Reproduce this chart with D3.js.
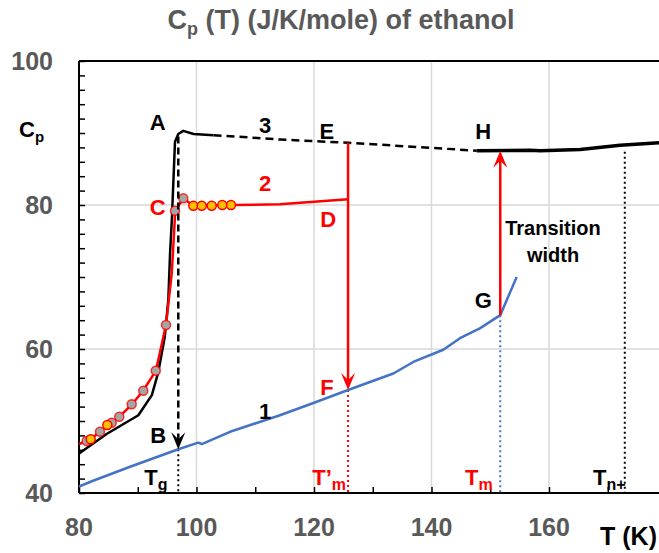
<!DOCTYPE html>
<html><head><meta charset="utf-8">
<script src="https://cdn.jsdelivr.net/npm/d3@7"></script>
<style>
html,body{margin:0;padding:0;background:#fff;}
svg{display:block;font-family:"Liberation Sans",Arial,sans-serif;font-weight:bold;}
</style></head>
<body><svg id="c" width="659" height="553"></svg>
<script>
// ---- data ----
const xTicks = [80, 100, 120, 140, 160];
const yTicks = [40, 60, 80, 100];
// curve 1 (crystal, blue)
const curve1 = [[80,40.9],[82.4,41.7],[88.7,43.65],[96.9,46.07],[100.3,46.99],[100.9,46.8],[105.7,48.5],[114.2,50.8],[119.9,52.5],[125.8,54.3],[133.5,56.6],[136.9,58.2],[142,59.9],[144.85,61.5],[148.3,62.9],[151.7,64.7],[154.5,70.0]];
// curve 3 (liquid, black solid low-T part)
const curve3a = [[80,45.5],[84.7,48.2],[90.1,50.8],[92.4,53.6],[93.5,56.8],[94.6,61.7],[95.2,66.8],[95.5,73.3],[95.8,77.9],[96.34,88.8],[96.9,89.86],[97.75,90.3],[99.5,89.86],[102.9,89.7]];
// curve 3 dashed extrapolation
const curve3b = [[102.9,89.7],[114.2,89.1],[125.8,88.65],[147.7,87.54]];
// curve 3 high-T liquid
const curve3c = [[147.7,87.54],[156.8,87.6],[158.5,87.54],[165.3,87.7],[172.1,88.3],[180,88.7]];
// curve 2 (red)
const curve2 = [[80,46.8],[81.3,47.2],[82,47.5],[83.6,48.5],[84.8,49.4],[85.6,49.8],[86.9,50.6],[89,52.3],[90.9,54.2],[93.1,57.0],[94.8,63.3],[95.8,70.6],[96.3,77.9],[96.34,79.2],[97.75,80.9],[99.5,79.9],[105.9,80.0],[114.2,80.1],[125.8,80.8]];
const grayPts = [[81.31,47.22],[83.57,48.51],[85.57,49.76],[86.86,50.6],[88.97,52.32],[90.94,54.21],[93.06,56.99],[94.81,63.33],[96.34,79.21],[97.75,80.93]];
const orangePts = [[81.99,47.46],[84.82,49.44],[99.46,79.9],[100.89,79.9],[102.59,79.9],[104.39,80.0],[105.87,80.0]];
const Tg = 96.9, Tm1 = 125.8, Tm = 151.7, Tn = 172.9;
const arrowAB = [[96.9,89.5],[96.9,46.07]];
const arrowEF = [[125.8,88.65],[125.8,54.3]];
const arrowGH = [[151.7,64.7],[151.7,87.54]];
const labels = [
 {t:"A",x:93.4,y:91.5,c:"#000"},{t:"3",x:111.7,y:91.1,c:"#000"},{t:"E",x:122.2,y:90.3,c:"#000"},
 {t:"H",x:148.8,y:90.3,c:"#000"},{t:"2",x:111.7,y:83.1,c:"#f00"},{t:"C",x:93.4,y:79.7,c:"#f00"},
 {t:"D",x:122.4,y:78.0,c:"#f00"},{t:"G",x:148.8,y:66.8,c:"#000"},{t:"F",x:122.2,y:54.7,c:"#f00"},
 {t:"1",x:111.7,y:51.4,c:"#000"},{t:"B",x:93.5,y:48.1,c:"#000"}
];
const subLabels = [
 {t:"T",s:"g",x:91.1,y:41.1,c:"#000"},{t:"T’",s:"m",x:119.7,y:41.1,c:"#f00"},
 {t:"T",s:"m",x:145.7,y:41.1,c:"#f00"},{t:"T",s:"n+",x:167.5,y:41.1,c:"#000"}
];

// ---- drawing ----
const svg = d3.select("#c");
const x = d3.scaleLinear().domain([80,180]).range([79,666.5]);
const y = d3.scaleLinear().domain([40,100]).range([493,61]);
const line = d3.line().x(d=>x(d[0])).y(d=>y(d[1]));
const gray = "#595959";

// gridlines
svg.append("g").selectAll("line").data([100,120,140,160]).join("line")
  .attr("x1",d=>x(d)).attr("x2",d=>x(d)).attr("y1",y(100)).attr("y2",y(40))
  .attr("stroke","#d9d9d9").attr("stroke-width",1.5);
svg.append("g").selectAll("line").data([60,80]).join("line")
  .attr("x1",x(80)).attr("x2",659).attr("y1",d=>y(d)).attr("y2",d=>y(d))
  .attr("stroke","#d9d9d9").attr("stroke-width",1.5);

// axes
const yAxis = d3.axisRight(y).tickValues(d3.range(40,101,2)).tickSize(6).tickFormat("");
const gy = svg.append("g").attr("transform",`translate(${x(80)},0)`).call(yAxis);
const xAxis = d3.axisTop(x).tickValues(d3.range(80,181,10)).tickSize(6).tickFormat("");
const gx = svg.append("g").attr("transform",`translate(0,${y(40)})`).call(xAxis);
[gy,gx].forEach(g=>{g.select(".domain").remove(); g.selectAll("line").attr("stroke","#000").attr("stroke-width",1.5);});
svg.append("line").attr("x1",x(80)).attr("x2",x(80)).attr("y1",y(100)).attr("y2",y(40)).attr("stroke","#000").attr("stroke-width",2);
svg.append("line").attr("x1",x(80)).attr("x2",659).attr("y1",y(40)).attr("y2",y(40)).attr("stroke","#000").attr("stroke-width",2);
svg.append("line").attr("x1",x(80)).attr("x2",659).attr("y1",y(100)).attr("y2",y(100)).attr("stroke","#000").attr("stroke-width",2);

// tick labels
svg.append("g").selectAll("text").data(yTicks).join("text")
  .attr("x",53).attr("y",d=>y(d)).attr("dy","0.36em").attr("text-anchor","end")
  .attr("font-size",25).attr("fill",gray).text(d=>d);
svg.append("g").selectAll("text").data(xTicks).join("text")
  .attr("x",d=>x(d)).attr("y",536).attr("text-anchor","middle")
  .attr("font-size",25).attr("fill",gray).text(d=>d);

// title
const title = svg.append("text").attr("x",341).attr("y",29).attr("text-anchor","middle").attr("font-size",27).attr("fill",gray);
title.append("tspan").text("C");
title.append("tspan").attr("font-size",18).attr("dy",6).text("p");
title.append("tspan").attr("dy",-6).text(" (T) (J/K/mole) of ethanol");

// axis titles
const cp = svg.append("text").attr("x",19).attr("y",137).attr("font-size",22).attr("fill","#000");
cp.append("tspan").text("C"); cp.append("tspan").attr("font-size",15).attr("dy",5).text("p");
svg.append("text").attr("x",657).attr("y",545).attr("text-anchor","end").attr("font-size",25).attr("fill","#000").text("T (K)");

// vertical dotted markers
const dotted = [[Tg,46.07,"#000"],[Tm1,54.3,"#f00"],[Tm,64.7,"#4472C4"],[Tn,87.4,"#000"]];
svg.append("g").selectAll("line").data(dotted).join("line")
  .attr("x1",d=>x(d[0])).attr("x2",d=>x(d[0])).attr("y1",d=>y(d[1])).attr("y2",y(40))
  .attr("stroke",d=>d[2]).attr("stroke-width",2).attr("stroke-dasharray","2,3");

// curves
svg.append("path").attr("d",line(curve1)).attr("fill","none").attr("stroke","#4472C4").attr("stroke-width",2.5).attr("stroke-linejoin","round");
svg.append("path").attr("d",line(curve3a)).attr("fill","none").attr("stroke","#000").attr("stroke-width",2.5).attr("stroke-linejoin","round");
svg.append("path").attr("d",line(curve3b)).attr("fill","none").attr("stroke","#000").attr("stroke-width",2.5).attr("stroke-dasharray","8,5");
svg.append("path").attr("d",line(curve3c)).attr("fill","none").attr("stroke","#000").attr("stroke-width",3.5).attr("stroke-linejoin","round");
svg.append("path").attr("d",line(curve2)).attr("fill","none").attr("stroke","#f00").attr("stroke-width",2.5).attr("stroke-linejoin","round");

// points
svg.append("g").selectAll("circle").data(grayPts).join("circle")
  .attr("cx",d=>x(d[0])).attr("cy",d=>y(d[1])).attr("r",4.5)
  .attr("fill","#a5a5a5").attr("stroke","#f00").attr("stroke-width",1.5).attr("stroke-opacity",0.8);
svg.append("g").selectAll("circle").data(orangePts).join("circle")
  .attr("cx",d=>x(d[0])).attr("cy",d=>y(d[1])).attr("r",4.5)
  .attr("fill","#ffc000").attr("stroke","#f00").attr("stroke-width",1.5);

// arrows
function arrow(pts,color,dash){
  const [a,b]=pts; const x1=x(a[0]),y1=y(a[1]),x2=x(b[0]),y2=y(b[1]);
  const dir = y2>y1?1:-1;
  svg.append("line").attr("x1",x1).attr("y1",y1).attr("x2",x2).attr("y2",y2-dir*6)
    .attr("stroke",color).attr("stroke-width",2.5).attr("stroke-dasharray",dash||null);
  const L=17,W=7,N=10;
  svg.append("path").attr("d",`M${x2},${y2} L${x2-W},${y2-dir*L} L${x2},${y2-dir*N} L${x2+W},${y2-dir*L} Z`).attr("fill",color);
}
arrow(arrowAB,"#000","7,4");
arrow(arrowEF,"#f00");
arrow(arrowGH,"#f00");

// labels
svg.append("g").selectAll("text").data(labels).join("text")
  .attr("x",d=>x(d.x)).attr("y",d=>y(d.y)).attr("dy","0.36em").attr("text-anchor","middle")
  .attr("font-size",22).attr("fill",d=>d.c).text(d=>d.t);
subLabels.forEach(d=>{
  const t = svg.append("text").attr("x",x(d.x)).attr("y",y(d.y)).attr("font-size",22).attr("fill",d.c);
  t.append("tspan").text(d.t);
  t.append("tspan").attr("font-size",16).attr("dy",5).text(d.s);
});
const tw = svg.append("text").attr("font-size",20).attr("fill","#000").attr("text-anchor","middle");
tw.append("tspan").attr("x",553).attr("y",235).text("Transition");
tw.append("tspan").attr("x",553).attr("y",262).text("width");
</script></body></html>
